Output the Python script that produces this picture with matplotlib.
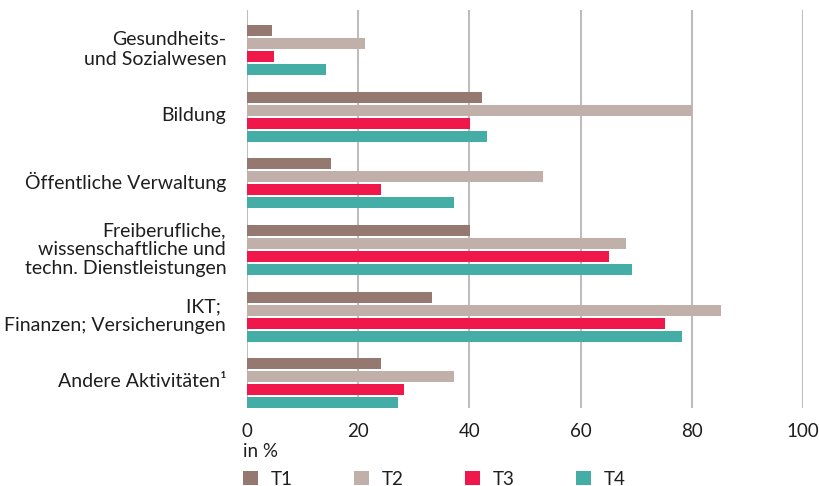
import numpy as np
import matplotlib.pyplot as plt
import matplotlib.transforms as mtransforms
from matplotlib.patches import Patch

categories = [
    "Gesundheits-\nund Sozialwesen",
    "Bildung",
    "Öffentliche Verwaltung",
    "Freiberufliche,\nwissenschaftliche und\ntechn. Dienstleistungen",
    "IKT; \nFinanzen; Versicherungen",
    "Andere Aktivitäten¹",
]
series = ["T1", "T2", "T3", "T4"]
t1 = [4.5, 42.3, 15.1, 40.1, 33.3, 24.1]
t2 = [21.2, 80.1, 53.2, 68.2, 85.3, 37.2]
t3 = [4.9, 40.1, 24.1, 65.1, 75.2, 28.2]
t4 = [14.2, 43.2, 37.2, 69.2, 78.2, 27.2]
colors = ["#957870", "#c1b0a9", "#f0184a", "#44ada6"]
xticks = [0, 20, 40, 60, 80, 100]

plt.rcParams["font.family"] = ["Lato", "DejaVu Sans"]
text_color = "#1e1e1e"

fig = plt.figure(figsize=(8.19, 4.86), dpi=100)
ax = fig.add_axes([247 / 819, 78 / 486, 556 / 819, 398 / 486])

y = np.arange(len(categories))
step = 0.195
for k, (vals, c) in enumerate(zip([t1, t2, t3, t4], colors)):
    ax.barh(y + (k - 1.5) * step, vals, height=0.165, color=c, zorder=3)

ax.set_xlim(0, 100)
ax.set_ylim(5.37, -0.6)
ax.set_xticks(xticks)
ax.set_xticklabels([str(v) for v in xticks], fontsize=13.5, color=text_color)
ax.set_yticks(y)
ax.set_yticklabels(categories, fontsize=14, color=text_color, linespacing=1.15)
ax.tick_params(axis="both", length=0)
ax.tick_params(axis="y", pad=15)
ax.tick_params(axis="x", pad=11)
shift = mtransforms.ScaledTranslation(0, 3 / 100, fig.dpi_scale_trans)
for lbl in ax.get_yticklabels():
    lbl.set_multialignment("right")
    lbl.set_transform(lbl.get_transform() + shift)

ax.grid(axis="x", color="#bdbdbd", linewidth=1.5, zorder=0)
ax.grid(axis="y", visible=False)
for s in ax.spines.values():
    s.set_visible(False)

fig.text(243 / 819, 1 - 451 / 486, "in %", fontsize=13.5, color=text_color,
         ha="left", va="center")

handles = [Patch(facecolor=c, edgecolor="none") for c in colors]
fig.legend(handles, series, loc="center left", ncol=4, frameon=False,
           bbox_to_anchor=(226 / 819, 1 - 479 / 486), fontsize=13.5,
           handlelength=0.8, handleheight=0.8, handletextpad=0.7,
           columnspacing=3.25, labelcolor=text_color)

fig.savefig("out.png", dpi=100)
